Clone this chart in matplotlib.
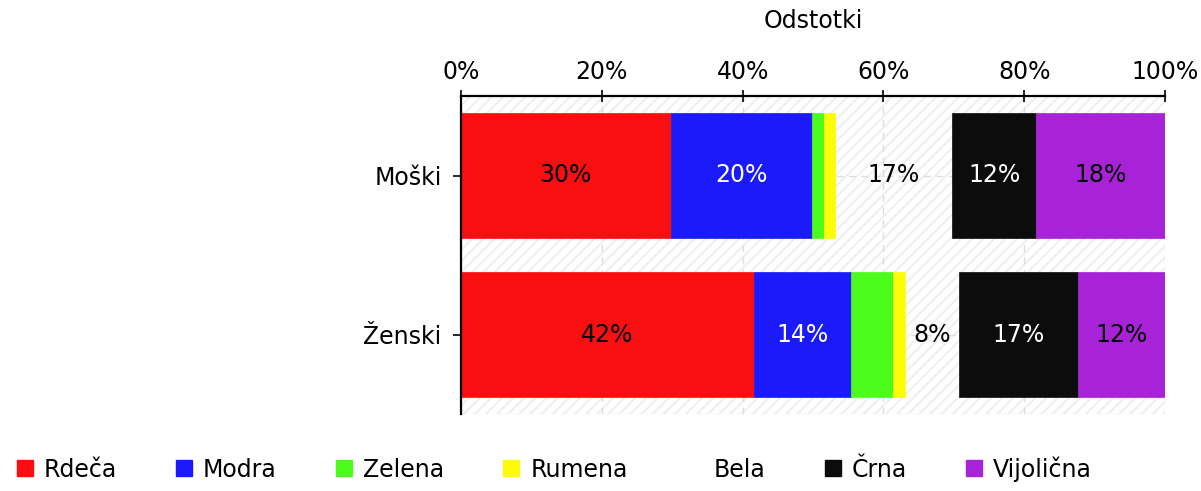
import matplotlib
matplotlib.use('Agg')
import matplotlib.pyplot as plt
from matplotlib.patches import Rectangle
from matplotlib.lines import Line2D
import numpy as np

categories = ["Moški", "Ženski"]
series = ["Rdeča", "Modra", "Zelena", "Rumena", "Bela", "Črna", "Vijolična"]
colors = ["#f90f0f", "#1a1afa", "#4cfc1c", "#fcfc08", "none", "#0c0c0c", "#a822d8"]
text_colors = ["black", "white", "black", "black", "black", "white", "black"]

# percent per category, order as in series
moski = [29.8, 20.0, 1.7, 1.6, 16.7, 11.9, 18.3]
zenski = [41.6, 13.8, 6.0, 1.7, 7.6, 16.9, 12.4]
values = np.array([moski, zenski])

FS = 17
plt.rcParams['font.family'] = ['DejaVu Sans']
fig = plt.figure(figsize=(12.01, 4.91), dpi=100)
ax = fig.add_axes([461/1201, 1 - 414/491, 704/1201, 318/491])

# hatched background
plt.rcParams['hatch.linewidth'] = 1.5
ax.add_patch(Rectangle((0, 0), 1, 1, transform=ax.transAxes, facecolor='white',
                       edgecolor='#efefef', hatch='///', lw=0, zorder=0))

y = np.arange(len(categories))
left = np.zeros(len(categories))
for i, name in enumerate(series):
    w = values[:, i]
    if colors[i] == "none":
        ax.barh(y, w, left=left, height=0.79, color='none', edgecolor='none', zorder=2)
    else:
        ax.barh(y, w, left=left, height=0.79, color=colors[i], edgecolor=colors[i],
                lw=0.5, zorder=2)
    for j in range(len(categories)):
        if w[j] >= 7:
            ax.text(left[j] + w[j] / 2, y[j], "%d%%" % round(w[j]), ha='center', va='center',
                    fontsize=FS, color=text_colors[i], zorder=3)
    left += w

ax.set_xlim(0, 100)
ax.set_ylim(1.5, -0.5)
ax.set_xticks([0, 20, 40, 60, 80, 100])
ax.set_xticklabels(["0%", "20%", "40%", "60%", "80%", "100%"])
ax.set_yticks(y)
ax.set_yticklabels(categories)
ax.xaxis.tick_top()
ax.xaxis.set_label_position('top')
ax.set_xlabel("Odstotki", fontsize=FS, labelpad=23)
ax.tick_params(axis='x', direction='inout', length=9, labelsize=FS, pad=4, width=1.2)
ax.tick_params(axis='y', direction='out', length=6, labelsize=FS, pad=8, width=1.2)
ax.grid(True, color='#dcdcdc', linestyle=(0, (5, 4)), lw=1, zorder=1)
ax.set_axisbelow(True)
for s in ['right', 'bottom']:
    ax.spines[s].set_visible(False)
ax.spines['left'].set_linewidth(1.6)
ax.spines['top'].set_linewidth(1.6)
ax.axhline(1.5, color='#dcdcdc', linestyle=(0, (5, 4)), lw=1, zorder=1)

handles = []
for i, name in enumerate(series):
    c = colors[i] if colors[i] != "none" else "white"
    handles.append(Line2D([], [], marker='s', linestyle='none', markersize=12,
                          markerfacecolor=c, markeredgecolor=c, label=name))
fig.legend(handles=handles, loc='lower left', bbox_to_anchor=(0.0, -0.01), ncol=7,
           frameon=False, fontsize=FS, handletextpad=0.35, columnspacing=2.4,
           handlelength=0.9, borderaxespad=0.2)

fig.savefig("out.png", dpi=100)
